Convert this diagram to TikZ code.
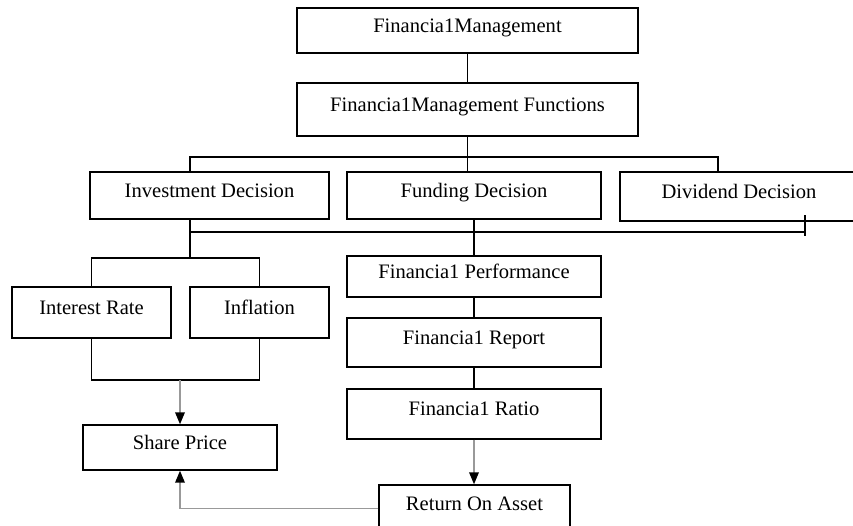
\documentclass[tikz,border=0pt]{standalone}
\usepackage{fontspec}
\setmainfont{Liberation Serif}
\usetikzlibrary{arrows.meta}
\definecolor{arrgray}{gray}{0.6}
\tikzset{blok/.style 2 args={draw,rectangle,line width=.8pt,minimum width=#1,minimum height=#2,inner sep=0pt,text height=.28cm,text depth=.22cm,font=\fontsize{11.7}{14}\selectfont},
ln/.style={line width=.6pt}, arr/.style={arrgray,line width=1pt,-{Triangle[black,length=.24cm,width=.19cm]}}}

\begin{document}
\begin{tikzpicture}[x=.02cm,y=-.02cm]
\clip (0,0) rectangle (853,525);
\node[blok={6.82cm}{.9cm}] (fm) at (467.5,30.5) {Financia1Management};
\node[blok={6.82cm}{1.06cm}] (fmf) at (467.5,109.5) {Financia1Management Functions};
\node[blok={4.78cm}{.94cm}] (inv) at (209.5,195.5) {Investment Decision};
\node[blok={5.08cm}{.94cm}] (fund) at (474,195.5) {Funding Decision};
\node[blok={4.76cm}{.98cm}] (div) at (739,196.5) {Dividend Decision};
\node[blok={3.18cm}{1.02cm}] (ir) at (91.5,312.5) {Interest Rate};
\node[blok={2.78cm}{1.02cm}] (infl) at (259.5,312.5) {Inflation};
\node[blok={5.08cm}{.82cm}] (fp) at (474,276.5) {Financia1 Performance};
\node[blok={5.08cm}{.98cm}] (fr) at (474,342.5) {Financia1 Report};
\node[blok={5.08cm}{1cm}] (frat) at (474,414) {Financia1 Ratio};
\node[blok={3.88cm}{.9cm}] (sp) at (180,447.5) {Share Price};
\node[blok={3.82cm}{.94cm}] (roa) at (474.5,508.5) {Return On Asset};
\coordinate (t1) at (190,157); \coordinate (t2) at (718,157);
\coordinate (b1) at (190,232); \coordinate (b2) at (805,232); \coordinate (b3) at (805,215); \coordinate (b4) at (805,236);
\coordinate (k1) at (190,258); \coordinate (k2) at (180,380);
\draw[ln] (fm.south)--(fmf.north); \draw[ln] (fmf.south)--(fmf.south |- fund.north);
\draw[ln] (t1 |- inv.north)--(t1)--(t2)--(t2 |- div.north);
\draw[ln] (b1 |- inv.south)--(k1); \draw[ln] (b1)--(b2); \draw[ln] (b3)--(b4);
\draw[ln] (fund.south)--(fp.north); \draw[ln] (fp.south)--(fr.north); \draw[ln] (fr.south)--(frat.north);
\draw[ln] (ir.north) |- (k1) -| (infl.north);
\draw[ln] (ir.south) |- (k2) -| (infl.south);
\draw[arr] (k2)--(sp.north);
\draw[arr] (frat.south)--(frat.south |- roa.north);
\draw[arr] (roa.west) -| (sp.south);
\end{tikzpicture}
\end{document}
